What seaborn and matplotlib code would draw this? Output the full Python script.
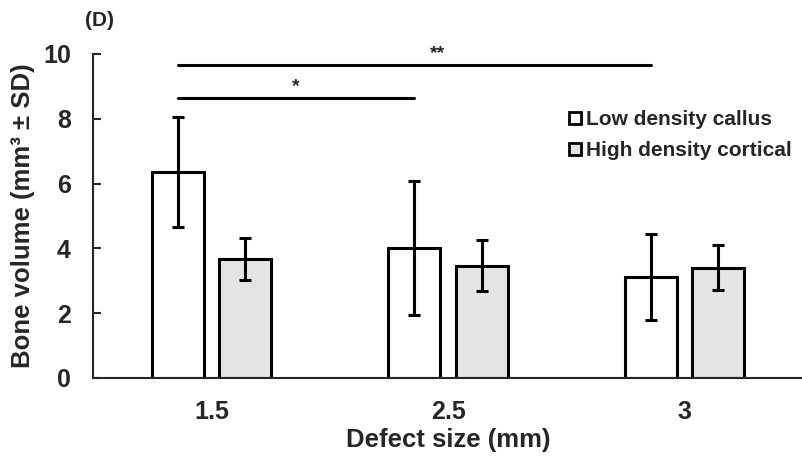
import pandas as pd
import seaborn as sns
import matplotlib.pyplot as plt
from matplotlib.lines import Line2D

# values
sizes = ['1.5', '2.5', '3']
groups = ['Low density callus', 'High density cortical']
low_mean = [6.36, 4.01, 3.12]
low_sd = [1.70, 2.07, 1.33]
high_mean = [3.67, 3.46, 3.40]
high_sd = [0.65, 0.79, 0.69]
colors = ['white', '#e4e4e4']

# significance brackets: (from size, to size, height, label)
brackets = [('1.5', '2.5', 8.64, '*'), ('1.5', '3', 9.66, '**')]


def main():
    df = pd.DataFrame({
        'size': sizes * 2,
        'group': [groups[0]] * 3 + [groups[1]] * 3,
        'volume': low_mean + high_mean,
        'sd': low_sd + high_sd,
    })

    sns.set_style('ticks')
    plt.rcParams['font.family'] = ['Liberation Sans', 'DejaVu Sans']
    plt.rcParams['font.weight'] = 'bold'

    fig = plt.figure(figsize=(8.03, 4.57), dpi=100)
    ax = fig.add_axes([0.116, 0.173, 0.884, 0.709])

    sns.barplot(data=df, x='size', y='volume', hue='group', palette=colors,
                edgecolor='black', linewidth=2.2, width=0.57, gap=0.23,
                errorbar=None, legend=False, ax=ax)

    # error bars on top of each bar
    white_x = {}
    for k, (cont, sds) in enumerate(zip(ax.containers, [low_sd, high_sd])):
        for i, (bar, sd) in enumerate(zip(cont, sds)):
            xc = bar.get_x() + bar.get_width() / 2
            ax.errorbar(xc, bar.get_height(), yerr=sd, color='black',
                        elinewidth=2.2, capsize=4, capthick=2.2, zorder=5)
            if k == 0:
                white_x[sizes[i]] = xc

    for a, b, h, lab in brackets:
        x1, x2 = white_x[a], white_x[b]
        ax.plot([x1, x2], [h, h], color='black', lw=2.2, clip_on=False)
        xt = x1 + (x2 - x1) * (0.55 if lab == '**' else 0.5)
        ax.text(xt, h + 0.08, lab, ha='center', va='bottom',
                fontsize=14, fontweight='bold', clip_on=False)

    ax.set_ylim(0, 10)
    ax.set_xlim(-0.5, 2.5)
    ax.set_yticks([0, 2, 4, 6, 8, 10])
    ax.tick_params(axis='y', direction='in', length=6, width=1.5,
                   labelsize=18, pad=16)
    ax.tick_params(axis='x', length=0, labelsize=18, pad=16)
    for lab in ax.get_xticklabels() + ax.get_yticklabels():
        lab.set_fontweight('bold')
    sns.despine(ax=ax)
    ax.spines['left'].set_linewidth(1.5)
    ax.spines['bottom'].set_linewidth(1.5)

    ax.set_xlabel('Defect size (mm)', fontsize=18.5, fontweight='bold', labelpad=3)
    ax.set_ylabel('Bone volume (mm³ ± SD)', fontsize=18.5, fontweight='bold', labelpad=6)

    handles = [Line2D([], [], marker='s', ls='none', markersize=9,
                      markerfacecolor=c, markeredgecolor='black',
                      markeredgewidth=2) for c in colors]
    ax.legend(handles, groups, loc='upper left', bbox_to_anchor=(0.652, 0.853),
              frameon=False, handletextpad=0.05, labelspacing=0.6,
              handlelength=1.0, borderaxespad=0, prop={'weight': 'bold', 'size': 15})

    fig.text(0.106, 0.955, '(D)', fontsize=15, fontweight='bold', ha='left', va='center')

    fig.savefig('out.png', dpi=100)
    plt.close(fig)


if __name__ == '__main__':
    main()
